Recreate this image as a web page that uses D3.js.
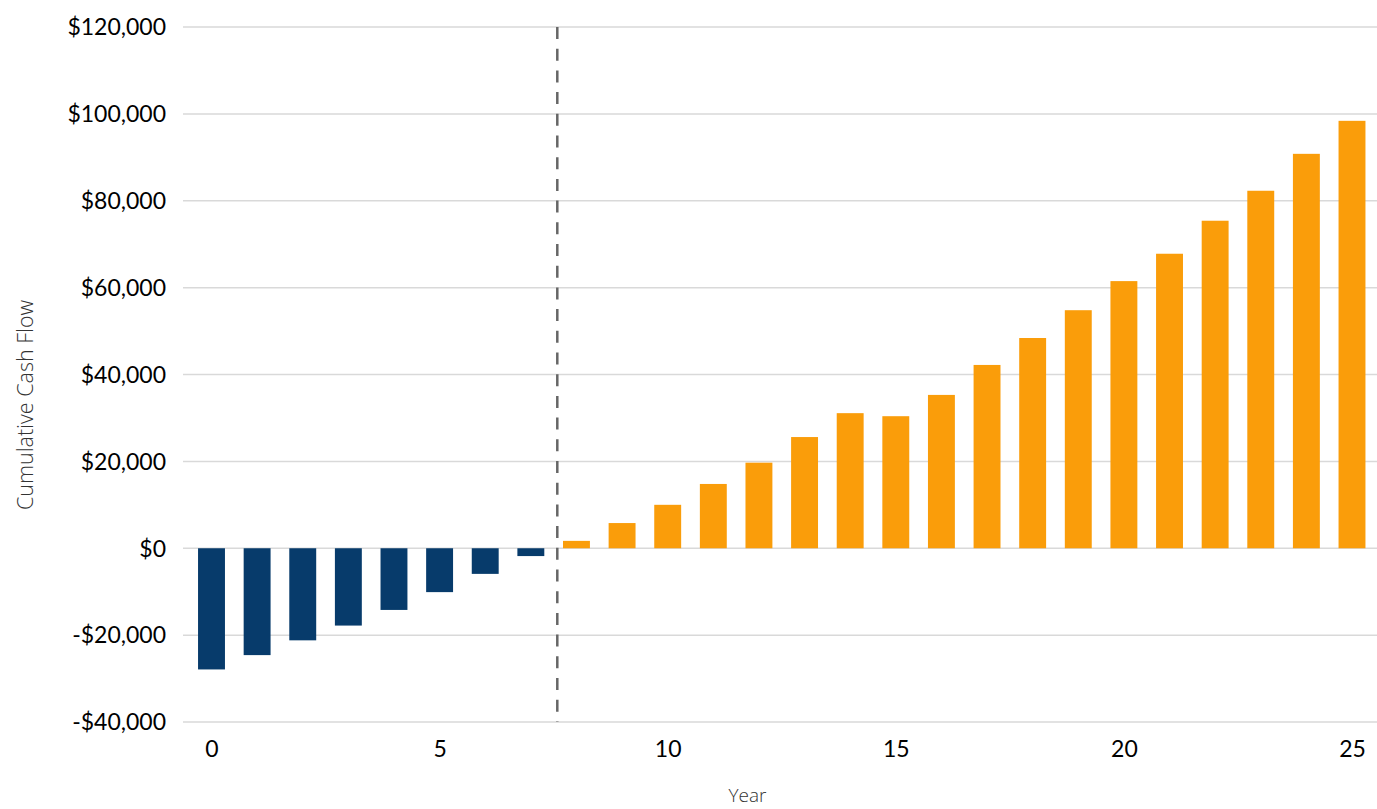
<!DOCTYPE html>
<html>
<head>
<meta charset="utf-8">
<script src="https://cdn.jsdelivr.net/npm/d3@7"></script>
<style>
html,body{margin:0;padding:0;background:#fff;}
svg{display:block;}
</style>
</head>
<body>
<svg id="chart" width="1377" height="809"></svg>
<script>
const years = d3.range(0, 26);
const cumulativeCashFlow = [
  -27900, -24600, -21200, -17800, -14200, -10100, -5900, -1800,
  1700, 5800, 10000, 14800, 19700, 25600, 31100, 30400, 35300,
  42200, 48400, 54800, 61500, 67800, 75400, 82300, 90800, 98400
];
const yTicks = [-40000, -20000, 0, 20000, 40000, 60000, 80000, 100000, 120000];
const xTicks = [0, 5, 10, 15, 20, 25];
const paybackYear = 7.58;
const xTitle = "Year";
const yTitle = "Cumulative Cash Flow";

const svg = d3.select("#chart");
const plot = {left: 183, right: 1377, top: 27, bottom: 722};

const x = d3.scaleLinear().domain([0, 25]).range([211.5, 1352]);
const y = d3.scaleLinear().domain([-40000, 120000]).range([plot.bottom, plot.top]);
const barW = 0.59 * (x(1) - x(0));

const font = "Lato, 'Noto Sans', sans-serif";

// gridlines
svg.append("g").selectAll("line").data(yTicks).join("line")
  .attr("x1", plot.left).attr("x2", plot.right)
  .attr("y1", d => y(d)).attr("y2", d => y(d))
  .attr("stroke", "#d9d9d9").attr("stroke-width", 1.5);

// y axis labels
const fmt = v => (v < 0 ? "-$" : "$") + d3.format(",")(Math.abs(v));
const yAxis = d3.axisLeft(y).tickValues(yTicks).tickFormat(fmt).tickSize(0).tickPadding(0);
const gy = svg.append("g").attr("transform", "translate(166,0)").call(yAxis);
gy.select(".domain").remove();
gy.selectAll("text").attr("font-family", font).attr("font-size", 23).attr("fill", "#000").attr("dy", "0.34em");

// x axis labels
const xAxis = d3.axisBottom(x).tickValues(xTicks).tickFormat(d3.format("d")).tickSize(0).tickPadding(0);
const gx = svg.append("g").attr("transform", "translate(0,740)").call(xAxis);
gx.select(".domain").remove();
gx.selectAll("text").attr("font-family", font).attr("font-size", 23).attr("fill", "#000").attr("dy", "0.72em");

// bars
svg.append("g").selectAll("rect").data(years).join("rect")
  .attr("x", i => x(i) - barW / 2)
  .attr("width", barW)
  .attr("y", i => Math.min(y(cumulativeCashFlow[i]), y(0)))
  .attr("height", i => Math.abs(y(cumulativeCashFlow[i]) - y(0)))
  .attr("fill", i => cumulativeCashFlow[i] < 0 ? "#073b6b" : "#fa9d0a");

// payback dashed line
svg.append("line")
  .attr("x1", x(paybackYear)).attr("x2", x(paybackYear))
  .attr("y1", y(120000)).attr("y2", y(-40000))
  .attr("stroke", "#666").attr("stroke-width", 2.5)
  .attr("stroke-dasharray", "12,9.7");

// axis titles
svg.append("text")
  .attr("x", 747.5).attr("y", 802)
  .attr("text-anchor", "middle")
  .attr("font-family", "'Open Sans', sans-serif").attr("font-weight", 300)
  .attr("font-size", 19).attr("fill", "#333")
  .text(xTitle);

svg.append("text")
  .attr("transform", "translate(33,405) rotate(-90)")
  .attr("text-anchor", "middle")
  .attr("font-family", "'Open Sans', sans-serif").attr("font-weight", 300)
  .attr("font-size", 21.5).attr("fill", "#333")
  .text(yTitle);
</script>
</body>
</html>
